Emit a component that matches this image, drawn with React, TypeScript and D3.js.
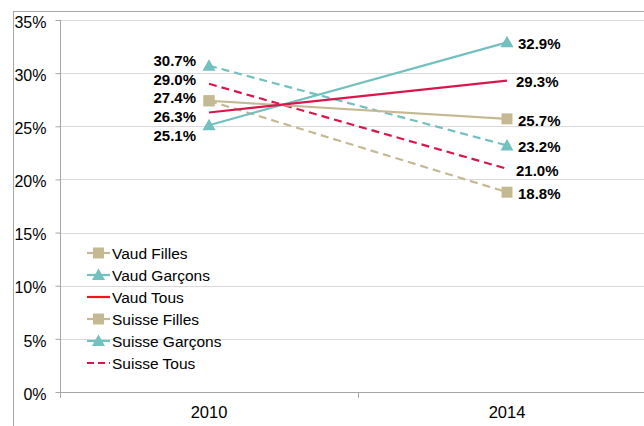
import React, { useEffect, useRef } from 'react'
import * as d3 from 'd3'

const years = ['2010', '2014']
const seriesNames = ['Vaud Filles', 'Vaud Garçons', 'Vaud Tous', 'Suisse Filles', 'Suisse Garçons', 'Suisse Tous']
const vaudFilles = [27.4, 25.7]
const vaudGarcons = [25.1, 32.9]
const vaudTous = [26.3, 29.3]
const suisseFilles = [27.4, 18.8]
const suisseGarcons = [30.7, 23.2]
const suisseTous = [29.0, 21.0]
const yTicks = [0, 5, 10, 15, 20, 25, 30, 35]

const TAN = '#c5b994'
const TEAL = '#72c0bf'
const CRIMSON = '#d9164c'
const FONT = 'Liberation Sans, Arial, sans-serif'

const App = () => {
  const svgRef = useRef(null)

  useEffect(() => {
    const svg = d3.select(svgRef.current)
    svg.selectAll('*').remove()

    const x = d3.scaleBand().domain(years).range([60, 656]).paddingInner(0).paddingOuter(0)
    const y = d3.scaleLinear().domain([0, 35]).range([392, 20])
    const cx = (i) => x(years[i]) + x.bandwidth() / 2

    // outer frame
    svg.append('rect')
      .attr('x', 13.5).attr('y', 11.5).attr('width', 700).attr('height', 500)
      .attr('fill', 'none').attr('stroke', '#a6a6a6').attr('stroke-width', 1)

    // gridlines
    svg.append('g').selectAll('line').data(yTicks.filter((d) => d > 0)).join('line')
      .attr('x1', 60).attr('x2', 656)
      .attr('y1', (d) => Math.round(y(d)) + 0.5).attr('y2', (d) => Math.round(y(d)) + 0.5)
      .attr('stroke', '#d9d9d9').attr('stroke-width', 1)

    // y axis
    const yAxis = svg.append('g').attr('transform', 'translate(60.5,0)')
      .call(d3.axisLeft(y).tickValues(yTicks).tickSize(5).tickFormat((d) => d + '%'))
    yAxis.select('.domain').attr('stroke', '#a6a6a6').attr('d', 'M-0,20V392')
    yAxis.selectAll('.tick line').attr('stroke', '#a6a6a6')
    yAxis.selectAll('.tick text')
      .attr('x', -14).attr('dy', '0.45em')
      .style('font-family', FONT)
      .style('font-size', '16px').attr('fill', '#000')

    // x axis
    const xAxis = svg.append('g').attr('transform', 'translate(0,392.5)')
      .call(d3.axisBottom(x).tickSize(0).tickPadding(14))
    xAxis.select('.domain').attr('stroke', '#a6a6a6').attr('d', 'M60,0H656')
    xAxis.selectAll('.tick text')
      .attr('dy', '0.71em')
      .style('font-family', FONT)
      .style('font-size', '16.5px').attr('fill', '#000')
    svg.append('g').selectAll('line').data([60, 60 + x.bandwidth(), 60 + 2 * x.bandwidth()]).join('line')
      .attr('x1', (d) => Math.round(d) + 0.5).attr('x2', (d) => Math.round(d) + 0.5)
      .attr('y1', 392).attr('y2', 398)
      .attr('stroke', '#a6a6a6')

    const series = [
      { name: seriesNames[0], values: vaudFilles, color: TAN, dash: null, marker: 'square', leftLabel: true, nudge: -3 },
      { name: seriesNames[1], values: vaudGarcons, color: TEAL, dash: null, marker: 'triangle', leftLabel: true, nudge: 11 },
      { name: seriesNames[2], values: vaudTous, color: CRIMSON, dash: null, marker: null, leftLabel: true, nudge: 4 },
      { name: seriesNames[3], values: suisseFilles, color: TAN, dash: '8,5', marker: 'square', leftLabel: false, nudge: 0 },
      { name: seriesNames[4], values: suisseGarcons, color: TEAL, dash: '8,5', marker: 'triangle', leftLabel: true, nudge: -5 },
      { name: seriesNames[5], values: suisseTous, color: CRIMSON, dash: '8,5', marker: null, leftLabel: true, nudge: -4 },
    ]

    const line = d3.line().x((d, i) => cx(i)).y((d) => y(d))
    const plot = svg.append('g')
    const drawOrder = [3, 4, 5, 0, 1, 2]
    drawOrder.forEach((k) => {
      const s = series[k]
      plot.append('path')
        .datum(s.values)
        .attr('d', line)
        .attr('fill', 'none')
        .attr('stroke', s.color)
        .attr('stroke-width', 2.2)
        .attr('stroke-dasharray', s.dash)
    })

    const marker = (g, type, px, py, color) => {
      if (type === 'square') {
        g.append('rect').attr('x', px - 5.5).attr('y', py - 5.5).attr('width', 11).attr('height', 11).attr('fill', color)
      } else if (type === 'triangle') {
        g.append('path').attr('d', `M${px},${py - 6.5}L${px + 6.5},${py + 5}L${px - 6.5},${py + 5}Z`).attr('fill', color)
      }
    }
    drawOrder.forEach((k) => {
      const s = series[k]
      s.values.forEach((v, i) => marker(plot, s.marker, cx(i), y(v), s.color))
    })

    // data labels
    const labels = svg.append('g')
      .style('font-family', FONT)
      .style('font-size', '15px').style('font-weight', 'bold')
    series.forEach((s) => {
      if (s.leftLabel) {
        labels.append('text')
          .attr('x', cx(0) - 13).attr('y', y(s.values[0]) + s.nudge)
          .attr('dy', '0.35em').attr('text-anchor', 'end')
          .text(d3.format('.1f')(s.values[0]) + '%')
      }
      labels.append('text')
        .attr('x', cx(1) + (s.marker ? 11 : 9)).attr('y', y(s.values[1]) + 1.5)
        .attr('dy', '0.35em')
        .text(d3.format('.1f')(s.values[1]) + '%')
    })

    // legend
    const legend = svg.append('g').attr('transform', 'translate(87,253)')
    series.forEach((s, i) => {
      const g = legend.append('g').attr('transform', `translate(0,${i * 22})`)
      g.append('line').attr('x1', 0).attr('x2', 23).attr('y1', 0).attr('y2', 0)
        .attr('stroke', s.name === 'Vaud Tous' ? '#f0141e' : s.color)
        .attr('stroke-width', 2.2)
        .attr('stroke-dasharray', s.dash && !s.marker ? '7,4' : null)
      marker(g, s.marker, 11.5, 0, s.color)
      g.append('text').attr('x', 25).attr('y', 0).attr('dy', '0.37em')
        .style('font-family', FONT)
        .style('font-size', '15.5px').attr('fill', '#000')
        .text(s.name)
    })
  }, [])

  return (
    <svg ref={svgRef} width={644} height={426}
      style={{ position: 'absolute', left: 0, top: 0, background: '#fff' }} />
  )
}

export default App
